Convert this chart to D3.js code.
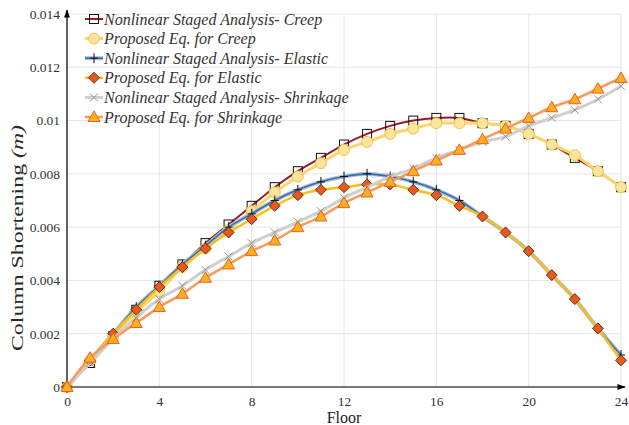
<!DOCTYPE html>
<html>
<head>
<meta charset="utf-8">
<script src="https://cdn.jsdelivr.net/npm/d3@7"></script>
<style>
  body { margin: 0; background: #fff; }
  svg text { font-family: "Liberation Serif", "Times New Roman", Times, serif !important; }
</style>
</head>
<body>
<svg id="chart" width="629" height="425"></svg>
<script>
// data
const floors = d3.range(0, 25);
const nsaCreep = [0, 0.0009, 0.0019, 0.0029, 0.0038, 0.0046, 0.0054, 0.0061, 0.0068, 0.0075, 0.0081, 0.0086, 0.0091, 0.0095, 0.0098, 0.0100, 0.0101, 0.0101, 0.0099, 0.0098, 0.0095, 0.0091, 0.0086, 0.0081, 0.0075];
const propCreep = [0, 0.0010, 0.0019, 0.0028, 0.0036, 0.0045, 0.0052, 0.0059, 0.0066, 0.0073, 0.0079, 0.0084, 0.0089, 0.0092, 0.0095, 0.0097, 0.0099, 0.0099, 0.0099, 0.0098, 0.0095, 0.0091, 0.0087, 0.0081, 0.0075];
const nsaElastic = [0, 0.0010, 0.0020, 0.0030, 0.0038, 0.0046, 0.0053, 0.0060, 0.0065, 0.0070, 0.0074, 0.0077, 0.0079, 0.0080, 0.0079, 0.0077, 0.0074, 0.0070, 0.0064, 0.0058, 0.0051, 0.0042, 0.0033, 0.0022, 0.0012];
const propElastic = [0, 0.0010, 0.0020, 0.0029, 0.00375, 0.0045, 0.0052, 0.0058, 0.0063, 0.0068, 0.0072, 0.0074, 0.0075, 0.0076, 0.0076, 0.0074, 0.0072, 0.0068, 0.0064, 0.0058, 0.0051, 0.0042, 0.0033, 0.0022, 0.0010];
const nsaShrink = [0, 0.0009, 0.0018, 0.0026, 0.0033, 0.0038, 0.0044, 0.0049, 0.0054, 0.0058, 0.0062, 0.0066, 0.0071, 0.0075, 0.0079, 0.0082, 0.0086, 0.0089, 0.0092, 0.0094, 0.0098, 0.0101, 0.0104, 0.0108, 0.0113];
const propShrink = [0, 0.0011, 0.0018, 0.0024, 0.0030, 0.0035, 0.0041, 0.0046, 0.0051, 0.0055, 0.0060, 0.0064, 0.0069, 0.0073, 0.0077, 0.0081, 0.0085, 0.0089, 0.0093, 0.0097, 0.0101, 0.0105, 0.0108, 0.0112, 0.0116];
const xTicks = [0, 4, 8, 12, 16, 20, 24];
const yTicks = [0, 0.002, 0.004, 0.006, 0.008, 0.01, 0.012, 0.014];
const legendNames = ["Nonlinear Staged Analysis- Creep", "Proposed Eq. for Creep", "Nonlinear Staged Analysis- Elastic", "Proposed Eq. for Elastic", "Nonlinear Staged Analysis- Shrinkage", "Proposed Eq. for Shrinkage"];

const svg = d3.select("#chart");
const x = d3.scaleLinear().domain([0, 24]).range([67, 621]);
const y = d3.scaleLinear().domain([0, 0.014]).range([387, 14]);

// grid
const grid = svg.append("g");
xTicks.forEach(t => {
  grid.append("line").attr("x1", x(t)).attr("x2", x(t)).attr("y1", y(0)).attr("y2", y(0.014))
    .attr("stroke", "#e6e6e6").attr("stroke-width", 1);
});
yTicks.forEach(t => {
  grid.append("line").attr("x1", x(0)).attr("x2", x(24)).attr("y1", y(t)).attr("y2", y(t))
    .attr("stroke", "#e6e6e6").attr("stroke-width", 1);
});

// axes with arrow heads
const defs = svg.append("defs");
defs.append("marker").attr("id", "arrow").attr("viewBox", "0 0 10 10").attr("refX", 9).attr("refY", 5)
  .attr("markerWidth", 7).attr("markerHeight", 7).attr("orient", "auto")
  .append("path").attr("d", "M0,1.5 L10,5 L0,8.5 Z").attr("fill", "#000");

svg.append("line").attr("x1", x(0)).attr("x2", 625).attr("y1", y(0)).attr("y2", y(0))
  .attr("stroke", "#000").attr("stroke-width", 1.2).attr("marker-end", "url(#arrow)");
svg.append("line").attr("x1", x(0)).attr("x2", x(0)).attr("y1", y(0)).attr("y2", 10)
  .attr("stroke", "#000").attr("stroke-width", 1.2).attr("marker-end", "url(#arrow)");

const xAxis = d3.axisBottom(x).tickValues(xTicks).tickSize(0).tickPadding(9);
svg.append("g").attr("transform", `translate(0,${y(0)})`).call(xAxis)
  .attr("font-family", null)
  .call(g => g.select(".domain").remove())
  .selectAll("text").attr("font-size", 13.5).attr("fill", "#333");

const yAxis = d3.axisLeft(y).tickValues(yTicks).tickSize(0).tickPadding(7).tickFormat(d => d === 0 ? "0" : d3.format("~g")(d));
svg.append("g").attr("transform", `translate(${x(0)},0)`).call(yAxis)
  .attr("font-family", null)
  .call(g => g.select(".domain").remove())
  .selectAll("text").attr("font-size", 13.5).attr("fill", "#333");

svg.append("text").attr("x", x(12)).attr("y", 423).attr("text-anchor", "middle")
  .attr("font-size", 16).attr("fill", "#222").text("Floor");
// the y title is stretched along its length in the source
const yl = svg.append("text").attr("transform", `translate(23,238) rotate(-90) scale(1.4,1)`)
  .attr("text-anchor", "middle").attr("font-size", 17).attr("fill", "#2a2a2a");
yl.append("tspan").text("Column Shortening ");
yl.append("tspan").attr("font-style", "italic").text("(m)");

// series
const series = [
  { name: legendNames[0], values: nsaCreep, color: "#9b1c1f", width: 2, shape: "square" },
  { name: legendNames[1], values: propCreep, color: "#fcd66a", width: 3, shape: "circle" },
  { name: legendNames[2], values: nsaElastic, color: "#3c6ea4", width: 1.6, halo: "#a8c1dc", shape: "plus" },
  { name: legendNames[3], values: propElastic, color: "#fbbd18", width: 2.5, shape: "diamond" },
  { name: legendNames[4], values: nsaShrink, color: "#cfcfcf", width: 3, shape: "cross" },
  { name: legendNames[5], values: propShrink, color: "#f79a5a", width: 2.5, shape: "triangle" }
];

const line = d3.line().x((d, i) => x(floors[i])).y(d => y(d)).curve(d3.curveCatmullRom.alpha(0.5));

function drawMarker(g, shape, cx, cy) {
  if (shape === "square") {
    g.append("rect").attr("x", cx - 4.5).attr("y", cy - 4.5).attr("width", 9).attr("height", 9)
      .attr("fill", "none").attr("stroke", "#111").attr("stroke-width", 1);
  } else if (shape === "circle") {
    g.append("circle").attr("cx", cx).attr("cy", cy).attr("r", 5.5)
      .attr("fill", "#fde49c").attr("stroke", "#f2c24a").attr("stroke-width", 1);
  } else if (shape === "plus") {
    g.append("path").attr("d", `M${cx - 4},${cy}H${cx + 4}M${cx},${cy - 5}V${cy + 5}`)
      .attr("stroke", "#111").attr("stroke-width", 1);
  } else if (shape === "diamond") {
    g.append("path").attr("d", `M${cx},${cy - 5.5}L${cx + 5.5},${cy}L${cx},${cy + 5.5}L${cx - 5.5},${cy}Z`)
      .attr("fill", "#e8591e").attr("stroke", "#3a1a0a").attr("stroke-width", 0.8);
  } else if (shape === "cross") {
    g.append("path").attr("d", `M${cx - 4},${cy - 4}L${cx + 4},${cy + 4}M${cx - 4},${cy + 4}L${cx + 4},${cy - 4}`)
      .attr("stroke", "#9a9a88").attr("stroke-width", 1);
  } else if (shape === "triangle") {
    g.append("path").attr("d", `M${cx},${cy - 6}L${cx + 6},${cy + 4.5}L${cx - 6},${cy + 4.5}Z`)
      .attr("fill", "#fdb022").attr("stroke", "#ee5f1e").attr("stroke-width", 1);
  }
}

const plot = svg.append("g");
series.forEach(s => {
  if (s.halo) {
    plot.append("path").datum(s.values).attr("d", line).attr("fill", "none")
      .attr("stroke", s.halo).attr("stroke-width", 4);
  }
  plot.append("path").datum(s.values).attr("d", line).attr("fill", "none")
    .attr("stroke", s.color).attr("stroke-width", s.width);
  const mg = plot.append("g");
  s.values.forEach((v, i) => drawMarker(mg, s.shape, x(floors[i]), y(v)));
});

// legend
const legend = svg.append("g");
series.forEach((s, i) => {
  const ly = 19 + i * 19.6;
  if (s.halo) {
    legend.append("line").attr("x1", 85).attr("x2", 103).attr("y1", ly).attr("y2", ly)
      .attr("stroke", s.halo).attr("stroke-width", 4);
  }
  legend.append("line").attr("x1", 85).attr("x2", 103).attr("y1", ly).attr("y2", ly)
    .attr("stroke", s.color).attr("stroke-width", s.width);
  drawMarker(legend, s.shape, 94, ly);
  legend.append("text").attr("x", 104).attr("y", ly + 5.5).attr("font-size", 16)
    .attr("font-style", "italic").attr("fill", "#333").text(s.name);
});
</script>
</body>
</html>
